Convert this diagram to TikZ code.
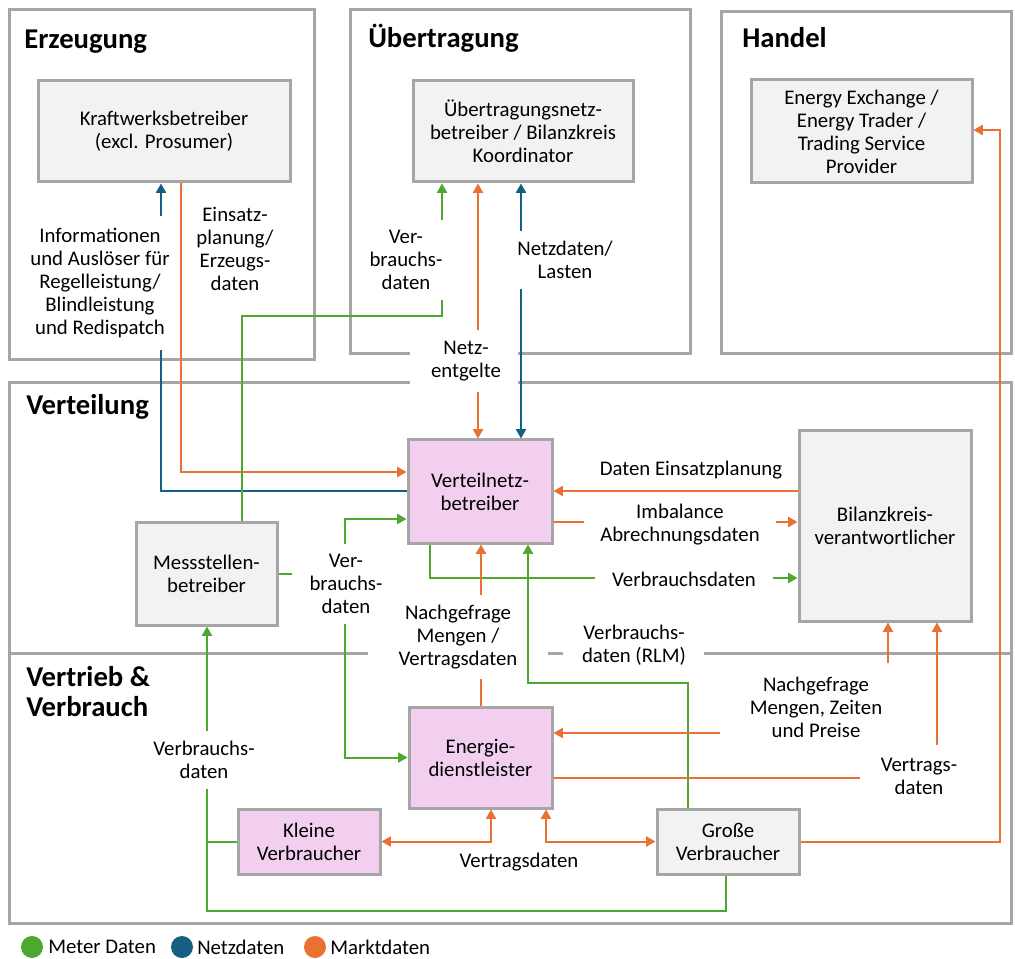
\documentclass[tikz,border=0pt]{standalone}
\usepackage{fontspec}
\setmainfont{Carlito}
\usetikzlibrary{arrows.meta}
\definecolor{cgreen}{HTML}{4EA72E}
\definecolor{cblue}{HTML}{156082}
\definecolor{corange}{HTML}{E97132}
\definecolor{cgray}{HTML}{A6A6A6}
\definecolor{cfill}{HTML}{F2F2F2}
\definecolor{cpink}{HTML}{F2CEEF}
\begin{document}
\begin{tikzpicture}[x=0.75pt,y=-0.75pt,
  >={Triangle[length=7pt,width=7.5pt]},
  section/.style={draw=cgray,line width=2.25pt},
  ent/.style={draw=cgray,line width=2.25pt,fill=cfill,align=center,
    font=\fontsize{15.6}{17.25}\selectfont,inner sep=2pt},
  entp/.style={ent,fill=cpink},
  secttitle/.style={font=\fontsize{21.5}{22.5}\selectfont\bfseries,anchor=west,align=left,inner sep=0pt},
  lbl/.style={align=center,font=\fontsize{15.6}{17.25}\selectfont,inner xsep=4pt,inner ysep=7.5pt},
  lblw/.style={lbl,fill=white},
  link/.style={line width=1.5pt},
  gr/.style={link,draw=cgreen},
  bl/.style={link,draw=cblue},
  og/.style={link,draw=corange},
  legtext/.style={font=\fontsize{15.6}{17.25}\selectfont,anchor=west,inner sep=0pt}
]
\useasboundingbox (0,0) rectangle (1015,959);

% sections
\draw[section] (9,10) rectangle (314,360);
\draw[section] (350,10) rectangle (690,354);
\draw[section] (721,12) rectangle (1011,354);
\draw[section] (9,383) rectangle (1011,923);
\draw[section] (9,653) -- (368,653);
\draw[section] (548,653) -- (563,653);
\draw[section] (704,653) -- (1011,653);

\node[secttitle] (tErz) at (24,42) {Erzeugung};
\node[secttitle] (tUeb) at (368,38) {Übertragung};
\node[secttitle] (tHan) at (742,38) {Handel};
\node[secttitle] (tVer) at (26,407) {Verteilung};
\node[secttitle] (tVtr) at (26,692) {Vertrieb \&\\Verbrauch};

% entities
\node[ent,minimum width=189pt,minimum height=75.75pt] (kw) at (164,131.5) {Kraftwerksbetreiber\\(excl. Prosumer)};
\node[ent,minimum width=165pt,minimum height=75.75pt] (uenb) at (523,131.5) {Übertragungsnetz-\\betreiber / Bilanzkreis\\Koordinator};
\node[ent,minimum width=165.75pt,minimum height=77.25pt] (ee) at (861.5,131.5) {Energy Exchange /\\Energy Trader /\\Trading Service\\Provider};
\node[entp,minimum width=108pt,minimum height=77.25pt] (vnb) at (480,491.5) {Verteilnetz-\\betreiber};
\node[ent,minimum width=129pt,minimum height=142.5pt] (bkv) at (885,526) {Bilanzkreis-\\verantwortlicher};
\node[ent,minimum width=105.75pt,minimum height=76.5pt] (msb) at (206.5,574) {Messstellen-\\betreiber};
\node[entp,minimum width=107.25pt,minimum height=75.75pt] (edl) at (480.5,757.5) {Energie-\\dienstleister};
\node[entp,minimum width=106.5pt,minimum height=48.75pt] (kv) at (309,841.5) {Kleine\\Verbraucher};
\node[ent,minimum width=106.5pt,minimum height=48.75pt] (gv) at (728,841.5) {Große\\Verbraucher};

% connectors
\draw[bl,->] (vnb.west) -| (161,0 |- kw.south);
\draw[og,->] (181,0 |- kw.south) |- (vnb.west |- 0,472);
\draw[gr,->] (242,0 |- msb.north) |- (442,316) -- (442,0 |- uenb.south);
\draw[og,<->] (478,0 |- uenb.south) -- (478,0 |- vnb.north);
\draw[bl,<->] (521,0 |- uenb.south) -- (521,0 |- vnb.north);
\draw[og,->] (bkv.west |- 0,491) -- (vnb.east |- 0,491);
\draw[og,->] (vnb.east |- 0,522) -- (bkv.west |- 0,522);
\draw[gr,->] (430,0 |- vnb.south) |- (bkv.west |- 0,578);
\coordinate (j) at (345,574);
\draw[gr] (msb.east) -- (j);
\draw[gr,->] (j) |- (vnb.west |- 0,519);
\draw[gr,->] (j) |- (edl.west);
\draw[og,->] (481,0 |- edl.north) -- (481,0 |- vnb.south);
\draw[gr,->] (688,0 |- gv.north) |- (528,683) -- (528,0 |- vnb.south);
\coordinate (n1) at (720,733);
\coordinate (n2) at (888,663);
\draw[og,->] (n1) -- (edl.east |- n1);
\draw[og,->] (n2) -- (n2 |- bkv.south);
\coordinate (v1) at (860,778);
\coordinate (v2) at (937,745);
\draw[og] (edl.east |- v1) -- (v1);
\draw[og,->] (v2) -- (v2 |- bkv.south);
\draw[og,->] (gv.east) -| (1000,130) -- (ee.east |- 0,130);
\draw[og,<->] (491,0 |- edl.south) |- (kv.east);
\draw[og,<->] (546,0 |- edl.south) |- (gv.west);
\draw[gr,->] (726,0 |- gv.south) |- (207,911) -- (207,0 |- msb.south);
\draw[gr] (kv.west) -- (207,0 |- kv.west);

% labels
\node[lblw,inner ysep=9pt] (lInfo) at (100,283) {Informationen\\und Auslöser für\\Regelleistung/\\Blindleistung\\und Redispatch};
\node[lbl] (lEins) at (235,249) {Einsatz-\\planung/\\Erzeugs-\\daten};
\node[lblw] (lVb1) at (406,260) {Ver-\\brauchs-\\daten};
\node[lblw] (lNetzd) at (565,260) {Netzdaten/\\Lasten};
\node[lblw,inner sep=0pt,minimum width=81pt,minimum height=46.5pt] (lNetze) at (464,361) {};
\node[lbl] (lNetzeT) at (466,361) {Netz-\\entgelte};
\node[lbl] (lDEP) at (691,470) {Daten Einsatzplanung};
\node[lblw,inner xsep=12pt] (lImb) at (680,525) {Imbalance\\Abrechnungsdaten};
\node[lblw,inner xsep=13pt] (lVb2) at (684,579) {Verbrauchsdaten};
\node[lblw,inner xsep=13pt] (lVb3) at (346,584) {Ver-\\brauchs-\\daten};
\node[lblw,inner xsep=3pt] (lNach1) at (458,637) {Nachgefrage\\Mengen /\\Vertragsdaten};
\node[lbl] (lRLM) at (634,645) {Verbrauchs-\\daten (RLM)};
\node[lbl] (lNach2) at (816,707) {Nachgefrage\\Mengen, Zeiten\\und Preise};
\node[lbl] (lVtr) at (919,776) {Vertrags-\\daten};
\node[lblw] (lVb4) at (204,760) {Verbrauchs-\\daten};
\node[lbl] (lVtr2) at (519,862) {Vertragsdaten};

% legend
\fill[cgreen] (32,947) circle[radius=11];
\node[legtext] (lgG) at (48,947) {Meter Daten};
\fill[cblue] (182,947) circle[radius=11];
\node[legtext] (lgB) at (197,947) {Netzdaten};
\fill[corange] (315,947) circle[radius=11];
\node[legtext] (lgO) at (330,947) {Marktdaten};
\end{tikzpicture}
\end{document}
